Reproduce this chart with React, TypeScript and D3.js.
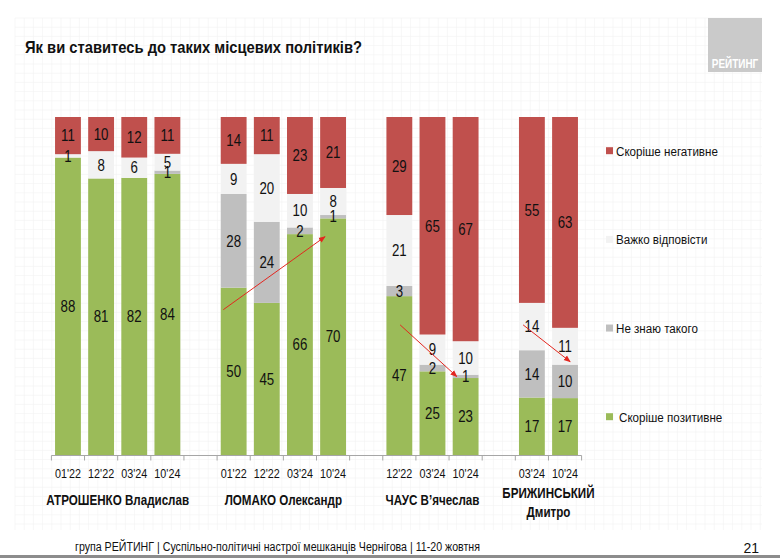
import * as d3 from "d3";
import type { ReactNode } from "react";

// categories
const politicians = [
  ["АТРОШЕНКО Владислав"],
  ["ЛОМАКО Олександр"],
  ["ЧАУС В’ячеслав"],
  ["БРИЖИНСЬКИЙ", "Дмитро"],
];
const waves = [
  ["01'22", "12'22", "03'24", "10'24"],
  ["01'22", "12'22", "03'24", "10'24"],
  ["12'22", "03'24", "10'24"],
  ["03'24", "10'24"],
];

// series values, bottom to top
const positive = [[88, 81, 82, 84], [50, 45, 66, 70], [47, 25, 23], [17, 17]];
const unknown = [[0, 0, 0, 1], [28, 24, 2, 1], [3, 2, 1], [14, 10]];
const hard = [[1, 8, 6, 5], [9, 20, 10, 8], [21, 9, 10], [14, 11]];
const negative = [[11, 10, 12, 11], [14, 11, 23, 21], [29, 65, 67], [55, 63]];

const seriesKeys = ["positive", "unknown", "hard", "negative"];
const seriesNames: Record<string, string> = {
  positive: "Скоріше позитивне",
  unknown: "Не знаю такого",
  hard: "Важко відповісти",
  negative: "Скоріше негативне",
};
const colors: Record<string, string> = {
  positive: "#9bbb59",
  unknown: "#bfbfbf",
  hard: "#f2f2f2",
  negative: "#c0504d",
};

// trend arrows: [group, wave, position across bar, percent]
const arrows = [
  { from: [1, 0, 0.1, 43], to: [1, 3, 0.19, 64.6] },
  { from: [2, 0, 0.53, 38.5], to: [2, 2, 0.16, 23.2] },
  { from: [3, 0, 0.16, 38.5], to: [3, 1, 0.7, 27.6] },
];

const title = "Як ви ставитесь до таких місцевих політиків?";
const footer = "група РЕЙТИНГ  | Суспільно-політичні настрої мешканців Чернігова | 11-20 жовтня";
const pageNo = "21";

const W = 780;
const H = 558;
const FONT = "'Liberation Sans', Arial, sans-serif";
const NARROW = 0.83; // no narrow font installed, squeeze the regular one

type Row = { key: string; group: number; wave: number; label: string; [k: string]: any };

// build slots with one empty slot between groups
const rows: Row[] = [];
const slots: string[] = [];
waves.forEach((ws, g) => {
  if (g > 0) slots.push(`gap${g}`);
  ws.forEach((w, i) => {
    const key = `${g}-${i}`;
    slots.push(key);
    rows.push({
      key,
      group: g,
      wave: i,
      label: w,
      positive: positive[g][i],
      unknown: unknown[g][i],
      hard: hard[g][i],
      negative: negative[g][i],
    });
  });
});

function T({
  x,
  y,
  sx = NARROW,
  children,
  ...rest
}: {
  x: number;
  y: number;
  sx?: number;
  children: ReactNode;
  [k: string]: any;
}) {
  return (
    <text transform={`translate(${x},${y}) scale(${sx},1)`} {...rest}>
      {children}
    </text>
  );
}

export default function App() {
  const x = d3
    .scaleBand<string>()
    .domain(slots)
    .range([51.4, 581.6])
    .paddingInner(0.22)
    .paddingOuter(0.11);
  const y = d3.scaleLinear().domain([0, 1]).range([455, 117]);
  const step = x.step();
  const x0 = x.range()[0];

  const stacked = d3
    .stack<Row>()
    .keys(seriesKeys)
    .offset(d3.stackOffsetExpand)(rows);

  const legendY = d3.scalePoint<string>().domain([...seriesKeys].reverse()).range([150.7, 416.7]);

  const gridX = d3.range(15, 763, 9.2);
  const gridY = d3.range(18, 531, 9.2);

  const arrowPt = (p: number[]) => {
    const r = rows.find((d) => d.group === p[0] && d.wave === p[1])!;
    const xx = (x(r.key) as number) + p[2] * x.bandwidth();
    return [xx, y(p[3] / 100)];
  };

  return (
    <svg
      width={W}
      height={H}
      style={{ position: "absolute", left: 0, top: 0, background: "#fff" }}
      fontFamily={FONT}
    >
      <defs>
        <marker id="arr" viewBox="0 0 10 10" refX="9" refY="5" markerWidth="7" markerHeight="7" orient="auto">
          <path d="M0,1 L10,5 L0,9 z" fill="#e3261f" />
        </marker>
      </defs>

      {/* faint grid paper */}
      <g stroke="#f1f1f1" strokeWidth={0.6}>
        {gridX.map((g) => (
          <line key={`gx${g}`} x1={g} x2={g} y1={18} y2={530} />
        ))}
        {gridY.map((g) => (
          <line key={`gy${g}`} x1={15} x2={762} y1={g} y2={g} />
        ))}
      </g>

      <text x={25} y={53} fontSize={17} fontWeight="bold" fill="#111" textLength={337} lengthAdjust="spacingAndGlyphs">
        {title}
      </text>

      {/* logo */}
      <rect x={708} y={18} width={54} height={54} fill="#cacaca" />
      <T x={735} y={68} fontSize={12} fontWeight="bold" fill="#fff" textAnchor="middle">
        РЕЙТИНГ
      </T>

      {/* bars */}
      {stacked.map((s) => (
        <g key={s.key} fill={colors[s.key]}>
          {s.map((d) => (
            <rect
              key={d.data.key}
              x={x(d.data.key)}
              width={x.bandwidth()}
              y={y(d[1])}
              height={y(d[0]) - y(d[1])}
            />
          ))}
        </g>
      ))}

      {/* value labels */}
      {stacked.map((s) => (
        <g key={`l${s.key}`} fontSize={16} fill="#111" textAnchor="middle">
          {s
            .filter((d) => d.data[s.key] > 0)
            .map((d) => (
              <T
                key={d.data.key}
                x={(x(d.data.key) as number) + x.bandwidth() / 2}
                y={(y(d[0]) + y(d[1])) / 2}
                dy="0.36em"
              >
                {d.data[s.key]}
              </T>
            ))}
        </g>
      ))}

      {/* axis */}
      <g stroke="#a6a6a6" strokeWidth={1}>
        <line x1={x0} x2={x0 + step * slots.length} y1={455.5} y2={455.5} />
        {d3.range(slots.length + 1).map((i) => (
          <line key={i} x1={x0 + i * step} x2={x0 + i * step} y1={455.5} y2={460.5} />
        ))}
      </g>
      <g fontSize={13} fill="#111" textAnchor="middle">
        {rows.map((r) => (
          <T key={r.key} x={(x(r.key) as number) + x.bandwidth() / 2} y={478}>
            {r.label}
          </T>
        ))}
      </g>
      <g fontSize={14} fontWeight="bold" fill="#111" textAnchor="middle">
        {politicians.map((names, g) => {
          const keys = rows.filter((r) => r.group === g).map((r) => r.key);
          const cx =
            ((x(keys[0]) as number) + (x(keys[keys.length - 1]) as number) + x.bandwidth()) / 2;
          const y0 = names.length > 1 ? 498 : 505;
          return names.map((n, j) => (
            <T key={`${g}-${j}`} x={cx} y={y0 + j * 19}>
              {n}
            </T>
          ));
        })}
      </g>

      {/* trend arrows */}
      <g stroke="#e3261f" strokeWidth={1}>
        {arrows.map((a, i) => {
          const [ax, ay] = arrowPt(a.from);
          const [bx, by] = arrowPt(a.to);
          return <line key={i} x1={ax} y1={ay} x2={bx} y2={by} markerEnd="url(#arr)" />;
        })}
      </g>

      {/* legend */}
      <g fontSize={13.5} fill="#111">
        {seriesKeys.map((k) => (
          <g key={k} transform={`translate(606,${legendY(k)})`}>
            <rect x={0} y={-3.5} width={7} height={7} fill={colors[k]} />
            <T x={k === "positive" ? 13 : 10} y={0} dy="0.36em" sx={0.86}>
              {seriesNames[k]}
            </T>
          </g>
        ))}
      </g>

      {/* footer */}
      <text x={75} y={551} fontSize={12} fill="#111" textLength={405} lengthAdjust="spacingAndGlyphs">
        {footer}
      </text>
      <text x={759} y={553} fontSize={14} fill="#111" textAnchor="end">
        {pageNo}
      </text>
      <rect x={0} y={555} width={W} height={3} fill="#8c8c8c" />
    </svg>
  );
}
